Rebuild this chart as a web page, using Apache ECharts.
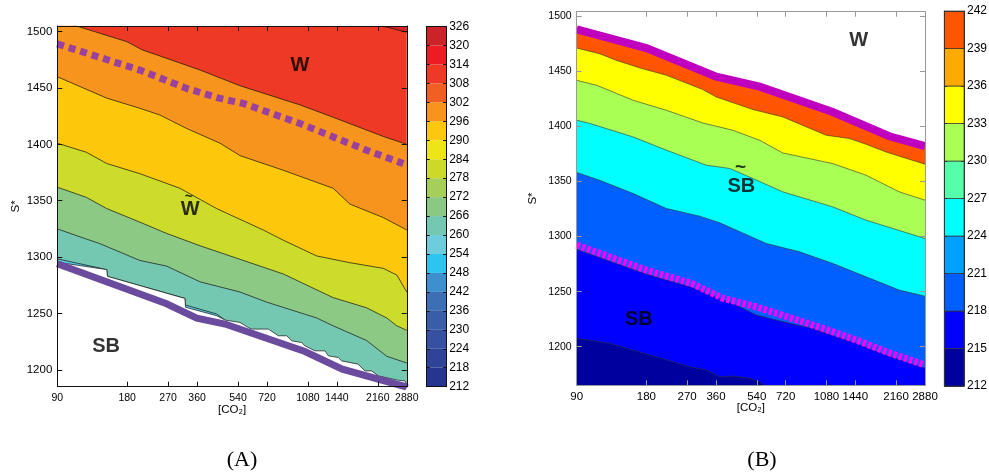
<!DOCTYPE html>
<html><head><meta charset="utf-8">
<script src="https://cdn.jsdelivr.net/npm/echarts@6/dist/echarts.min.js"></script>
<style>html,body{margin:0;padding:0;background:#fff}#c{width:989px;height:474px}</style>
</head><body><div id="c"></div>
<script>
// ---------- tick labels ----------
const co2Ticks = [90,180,270,360,540,720,1080,1440,2160,2880];
const sTicks = [1200,1250,1300,1350,1400,1450,1500];
const cbLevelsA = [212,218,224,230,236,242,248,254,260,266,272,278,284,290,296,302,308,314,320,326];
const cbLevelsB = [212,215,218,221,224,227,230,233,236,239,242];

// ---------- panel A contour boundaries ([CO2], S*) ----------
const aCornerCO2 = [2246, 2880];                 const aCornerS = [1505.1, 1499.5];
const a1CO2 = [90,109,180,208,370,551,999,1388,2282,2880];
const a1S   = [1511,1505,1491,1484,1466,1452,1435,1424,1407,1400];
const a2CO2 = [90,147,204,249,325,452,551,846,1388,1638,2282,2880];
const a2S   = [1460,1441,1432,1426,1414,1401,1390,1377,1361,1347,1335,1324];
const a3CO2 = [90,120,147,204,304,437,694,846,1178,1638,2282,2609,2880];
const a3S   = [1401,1393,1383,1374,1361,1343,1324,1315,1301,1295,1290,1284,1269];
const a4CO2 = [90,120,147,204,266,371,551,846,1388,1933,2360,2609,2880];
const a4S   = [1362,1353,1343,1331,1321,1310,1298,1285,1264,1255,1246,1239,1235];
const a5CO2 = [90,120,137,204,266,371,551,718,1178,1388,1933,2360,2880];
const a5S   = [1325,1316,1312,1297,1292,1278,1269,1260,1246,1239,1226,1212,1206];
const aLbCO2 = [90,147,148,319,320,437,475];
const aLbS   = [1298.4,1288.9,1282.9,1263.3,1257.5,1249.5,1244.1];
const aWCO2 = [90,113,147,148,319,321,437,475,551,598,619,730,805,876,920,1015,1049,1159,1280,1322,1460,1510,1779,1903,2034,2170,2647,2829,2880];
const aWS   = [1295.4,1292.4,1288.9,1282.9,1263.3,1255.5,1248.0,1244.1,1242.0,1237.5,1236.1,1236.1,1230.2,1230.2,1225.7,1224.2,1221.3,1216.8,1216.8,1212.4,1210.9,1207.9,1205.0,1199.0,1199.0,1194.6,1190.7,1190.1,1186.6];
const aSolidCO2 = [90,266,359,475,1049,1519,2829,2880];
const aSolidS   = [1294.0,1258.6,1245.9,1240.6,1216.2,1200.5,1185.1,1184];
const aDashCO2 = [90,204,325,452,569,999,1388,1933,2781];
const aDashS   = [1489.1,1465.9,1449.6,1440.7,1436.3,1418.5,1406.6,1394.8,1382.9];
const annACO2 = [999,336,332,146];
const annAS   = [1470.4,1342.1,1353.4,1220.6];
const annAText = ['W','W','~','SB'];

// ---------- panel B contour boundaries ----------
const bMagCO2 = [90,180,361,556,1150,2020,2880];
const bMagS   = [1488,1471,1445,1436,1413,1391,1382];
const bOYCO2 = [90,113,134,169,220,316,361,520,700,1077,1358,1603,1956,2880];
const bOYS   = [1471.0,1465.9,1459.8,1452.9,1446.3,1433.3,1426.6,1415.2,1408.5,1391.9,1388.9,1383.7,1376.7,1365.6];
const bYGCO2 = [90,110,158,220,316,426,556,700,1150,1603,2231,2880];
const bYGS   = [1441.7,1437.2,1423.6,1414.5,1403.0,1396.4,1387.3,1375.8,1366.2,1355.6,1340.5,1333.0];
const bGCCO2 = [90,103,158,220,327,413,520,700,1150,1603,2880];
const bGCS   = [1405.5,1402.5,1390.3,1378.3,1364.7,1361.7,1352.6,1340.5,1326.9,1314.8,1298.2];
const bCBCO2 = [90,113,158,220,306,374,441,594,827,1150,1603,2231,2880];
const bCBS   = [1358.1,1351.1,1339.0,1325.4,1318.5,1312.4,1305.8,1293.7,1286.1,1275.6,1263.4,1251.4,1245.9];
const bBBCO2 = [90,180,282,386,426,538,749,943,1042,1452,1956,2880];
const bBBS   = [1288.5,1265.9,1254.1,1242.3,1239.3,1228.7,1221.2,1216.7,1213.3,1203.3,1192.5,1180.7];
const bNavyCO2 = [90,125,186,277,327,374,426,503,556,594];
const bNavyS   = [1207.6,1203.1,1192.5,1181.9,1178.9,1172.8,1173.4,1171.4,1168.3,1164.4];
const bDashCO2 = [90,180,282,386,538,1042,1452,1956,2880];
const bDashS   = [1292.2,1269.5,1257.5,1243.9,1236.2,1216.7,1206.1,1195.5,1183.4];
const annBCO2 = [1488,463,459,167];
const annBS   = [1478.0,1345.0,1362.5,1225.1];
const annBText = ['W','SB','~','SB'];

// ---------- styles ----------
const cbColorsA = ['#263590','#2F4499','#3650A2','#3A5DA9','#3D6FB5','#3E8FCE','#2DC4F0','#6ECCDC','#74C8B2','#8BC884','#A6CF5A','#CCD82A','#EEE516','#FDC70F','#F7941D','#F15F22','#EE3A24','#EC1C24','#CC2229'];
const cbColorsB = ['#00009F','#0000FF','#0060FF','#00A0FF','#00FFFF','#55FFAA','#AAFF55','#FFFF00','#FFAA00','#FF5500'];
const SANS = 'Liberation Sans, Arial, Helvetica, sans-serif';

const L2 = v => Math.log2(v / 90);
const pts = (c, s) => c.map((v, i) => [L2(v), s[i]]);
const tickU = co2Ticks.map(L2);

let zc = 3;
function band(gi, c, s, fill, lineColor, lineW, origin) {
  const o = {
    type: 'line', xAxisIndex: gi === 0 ? 0 : 3, yAxisIndex: gi === 0 ? 0 : 4,
    data: pts(c, s), symbol: 'none', clip: true, silent: true, animation: false, z: zc++,
    lineStyle: { color: lineColor || '#000', width: lineW || 0 }
  };
  if (fill) o.areaStyle = { color: fill, opacity: 1, origin: origin || 'start' };
  return o;
}
function stroke(gi, c, s, color, width, dash) {
  return {
    type: 'line', xAxisIndex: gi === 0 ? 0 : 3, yAxisIndex: gi === 0 ? 0 : 4,
    data: pts(c, s), symbol: 'none', clip: true, silent: true, animation: false, z: zc++,
    lineStyle: { color, width, type: dash || 'solid', cap: 'butt', join: 'miter' }
  };
}
function ann(gi, c, s, texts, tildeSize) {
  return {
    type: 'scatter', xAxisIndex: gi === 0 ? 0 : 3, yAxisIndex: gi === 0 ? 0 : 4,
    symbolSize: 0, silent: true, animation: false, z: 60,
    data: c.map((v, i) => ({
      value: [L2(v), s[i]],
      label: { show: true, position: 'inside', formatter: texts[i], color: '#000', textBorderWidth: 0,
        fontFamily: SANS, fontWeight: 'bold', fontSize: texts[i] === '~' ? tildeSize : 20 }
    }))
  };
}
function colorbar(xi, yi, levels, colors, border) {
  return {
    type: 'custom', xAxisIndex: xi, yAxisIndex: yi, silent: true, animation: false, z: 5,
    data: colors.map((c, i) => [0.5, levels[i], levels[i + 1]]),
    encode: { x: 0, y: [1, 2] },
    renderItem: (params, api) => {
      const p0 = api.coord([0, api.value(2)]);
      const p1 = api.coord([1, api.value(1)]);
      return { type: 'rect', shape: { x: p0[0], y: p0[1], width: p1[0] - p0[0], height: p1[1] - p0[1] },
        style: { fill: colors[params.dataIndex], stroke: border || null, lineWidth: border ? 0.7 : 0 } };
    }
  };
}

function xAx(gi, pos, labels, col, fs) {
  return {
    type: 'value', gridIndex: gi, min: 0, max: 5, position: pos, z: 50,
    name: labels ? '[CO₂]' : '', nameLocation: 'middle', nameGap: 17, nameMoveOverlap: false,
    nameTextStyle: { color: '#000', fontSize: 11.5, fontFamily: SANS + ', DejaVu Sans', verticalAlign: 'top' },
    axisLine: { show: true, onZero: false, lineStyle: { color: col, width: 1 } },
    axisTick: { show: true, inside: true, length: 5, customValues: tickU, lineStyle: { color: col, width: 1 } },
    axisLabel: { show: labels, customValues: tickU, margin: 6, color: '#000', fontSize: fs, fontFamily: SANS,
      formatter: v => String(Math.round(90 * Math.pow(2, v))) },
    splitLine: { show: false }
  };
}
function yAx(gi, min, max, pos, labels, col, fs, gap) {
  return {
    type: 'value', gridIndex: gi, min, max, position: pos, z: 50,
    name: labels ? 'S*' : '', nameLocation: 'middle', nameGap: gap || 35, nameRotate: 90, nameMoveOverlap: false,
    nameTextStyle: { color: '#000', fontSize: 11.5, fontFamily: SANS },
    axisLine: { show: true, onZero: false, lineStyle: { color: col, width: 1 } },
    axisTick: { show: true, inside: true, length: 5, customValues: sTicks, lineStyle: { color: col, width: 1 } },
    axisLabel: { show: labels, customValues: sTicks, margin: 5, color: '#000', fontSize: fs, fontFamily: SANS,
      formatter: v => String(Math.round(v)) },
    splitLine: { show: false }
  };
}
function cbX(gi, pos, col) {
  return { type: 'value', gridIndex: gi, min: 0, max: 1, position: pos, z: 50,
    axisLine: { show: true, onZero: false, lineStyle: { color: col, width: 1 } },
    axisTick: { show: false }, axisLabel: { show: false }, splitLine: { show: false } };
}
function cbY(gi, levels, pos, labels, col) {
  return { type: 'value', gridIndex: gi, min: levels[0], max: levels[levels.length - 1], position: pos, z: 50,
    axisLine: { show: true, onZero: false, lineStyle: { color: col, width: 1 } },
    axisTick: { show: true, inside: true, length: 3, customValues: levels, lineStyle: { color: col, width: 1 } },
    axisLabel: { show: labels, customValues: levels, margin: 3, color: '#000', fontSize: 12, fontFamily: SANS,
      formatter: v => String(Math.round(v)) },
    splitLine: { show: false } };
}

const chart = echarts.init(document.getElementById('c'), null, { renderer: 'canvas', width: 989, height: 474 });

const series = [];
// Panel A fills
series.push(band(0, aCornerCO2, aCornerS, '#D6232A', '#111', 0.7, 'end'));
series.push(band(0, a1CO2, a1S, '#F7941D', '#111', 0.7));
series.push(band(0, a2CO2, a2S, '#FDC70C', '#111', 0.7));
series.push(band(0, a3CO2, a3S, '#CDDB2A', '#111', 0.7));
series.push(band(0, a4CO2, a4S, '#8CC985', '#111', 0.7));
series.push(band(0, a5CO2, a5S, '#74C8B2', '#111', 0.7));
series.push(band(0, aLbCO2, aLbS, '#5CC8E2', '#111', 0.7));
series.push(band(0, aWCO2, aWS, '#FFFFFF', '#111', 0.7));
series.push(stroke(0, aSolidCO2, aSolidS, '#6A4B9D', 7));
series.push(stroke(0, aDashCO2, aDashS, '#9A41A0', 7, [7, 5]));
series.push(ann(0, annACO2, annAS, annAText, 14));
// Panel B fills
series.push(band(1, bMagCO2, bMagS, '#FF5500', '#BF00BF', 0));
series.push(band(1, bOYCO2, bOYS, '#FFFF00', '#333', 0.6));
series.push(band(1, bYGCO2, bYGS, '#AAFF55', '#333', 0.6));
series.push(band(1, bGCCO2, bGCS, '#00FFFF', '#333', 0.6));
series.push(band(1, bCBCO2, bCBS, '#0060FF', '#333', 0.6));
series.push(band(1, bBBCO2, bBBS, '#0000FF', '#333', 0.6));
series.push(band(1, bNavyCO2, bNavyS, '#00009F', '#333', 0.6));
series.push(stroke(1, bMagCO2, bMagS, '#BF00BF', 8));
series.push(stroke(1, bDashCO2, bDashS, '#FF00FF', 7, [3.5, 2]));
series.push(ann(1, annBCO2, annBS, annBText, 19));
// colorbars
series.push(colorbar(2, 2, cbLevelsA, cbColorsA, null));
series.push(colorbar(5, 6, cbLevelsB, cbColorsB, '#333'));

chart.setOption({
  animation: false,
  backgroundColor: '#fff',
  grid: [
    { left: 57.3, top: 26, width: 349.5, height: 360.7, show: true, backgroundColor: '#EE3A24', borderWidth: 0, outerBoundsMode: 'none' },
    { left: 426.7, top: 26.5, width: 19.5, height: 360.2, outerBoundsMode: 'none' },
    { left: 576.7, top: 11.7, width: 348.3, height: 373.6, show: true, backgroundColor: '#FFFFFF', borderWidth: 0, outerBoundsMode: 'none' },
    { left: 944.3, top: 11, width: 19.7, height: 375, outerBoundsMode: 'none' }
  ],
  xAxis: [
    xAx(0, 'bottom', true, '#111', 10.5),
    xAx(0, 'top', false, '#111', 10.5),
    cbX(1, 'bottom', '#111'),
    xAx(2, 'bottom', true, '#999', 11.5),
    xAx(2, 'top', false, '#999', 11.5),
    cbX(3, 'bottom', '#333'),
    cbX(3, 'top', '#333'),
    cbX(1, 'top', '#111')
  ],
  yAxis: [
    yAx(0, 1185, 1505, 'left', true, '#111', 11.5, 35),
    yAx(0, 1185, 1505, 'right', false, '#111', 11.5),
    cbY(1, cbLevelsA, 'left', false, '#111'),
    cbY(1, cbLevelsA, 'right', true, '#111'),
    yAx(2, 1165, 1504, 'left', true, '#999', 10.5, 38),
    yAx(2, 1165, 1504, 'right', false, '#999', 10.5),
    cbY(3, cbLevelsB, 'left', false, '#333'),
    cbY(3, cbLevelsB, 'right', true, '#333')
  ],
  series,
  graphic: [
    { type: 'text', x: 242, y: 460, style: { text: '(A)', font: '22px "Liberation Serif", serif', fill: '#000', align: 'center', verticalAlign: 'middle' } },
    { type: 'text', x: 762, y: 460, style: { text: '(B)', font: '22px "Liberation Serif", serif', fill: '#000', align: 'center', verticalAlign: 'middle' } }
  ]
});
</script></body></html>
